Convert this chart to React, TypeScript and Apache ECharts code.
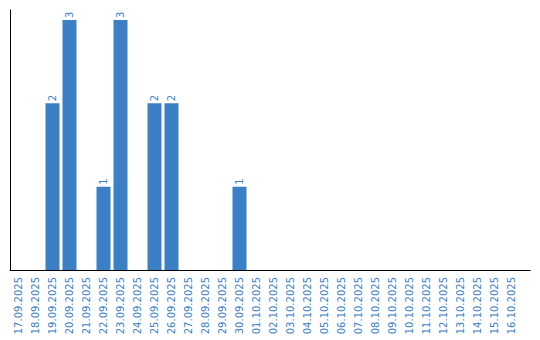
import React, { useEffect, useRef } from "react";
import * as echarts from "echarts";

const categories: string[] = [
  "17.09.2025", "18.09.2025", "19.09.2025", "20.09.2025", "21.09.2025",
  "22.09.2025", "23.09.2025", "24.09.2025", "25.09.2025", "26.09.2025",
  "27.09.2025", "28.09.2025", "29.09.2025", "30.09.2025", "01.10.2025",
  "02.10.2025", "03.10.2025", "04.10.2025", "05.10.2025", "06.10.2025",
  "07.10.2025", "08.10.2025", "09.10.2025", "10.10.2025", "11.10.2025",
  "12.10.2025", "13.10.2025", "14.10.2025", "15.10.2025", "16.10.2025",
];

const values: (number | null)[] = [
  null, null, 2, 3, null, 1, 3, null, 2, 2,
  null, null, null, 1, null, null, null, null, null, null,
  null, null, null, null, null, null, null, null, null, null,
];

const BLUE = "#3b7fc4";

export default function App() {
  const ref = useRef<HTMLDivElement>(null);
  useEffect(() => {
    if (!ref.current) return;
    const chart = echarts.init(ref.current, undefined, { renderer: "svg" });
    chart.setOption({
      animation: false,
      textStyle: { fontFamily: "DejaVu Sans" },
      grid: { left: 10, right: 20, top: 10, bottom: 70, containLabel: false },
      xAxis: {
        type: "category",
        data: categories,
        axisLine: { show: true, lineStyle: { color: "#000", width: 1 } },
        axisTick: { show: false },
        axisLabel: {
          interval: 0,
          rotate: 90,
          color: BLUE,
          fontSize: 10,
          fontFamily: "DejaVu Sans",
          margin: 7,
        },
        splitLine: { show: false },
      },
      yAxis: {
        type: "value",
        min: 0,
        max: 3.12,
        axisLine: { show: true, lineStyle: { color: "#000", width: 1 } },
        axisTick: { show: false },
        axisLabel: { show: false },
        splitLine: { show: false },
      },
      graphic: [
        {
          type: "line",
          shape: { x1: 519, y1: 270.5, x2: 530.5, y2: 270.5 },
          style: { stroke: "#000", lineWidth: 1 },
          silent: true,
        },
      ],
      series: [
        {
          type: "bar",
          data: values,
          barWidth: 14,
          itemStyle: { color: BLUE },
          label: {
            show: true,
            position: "top",
            rotate: 90,
            align: "left",
            verticalAlign: "middle",
            distance: 2,
            color: BLUE,
            fontSize: 10,
            fontFamily: "DejaVu Sans",
          },
        },
      ],
    });
    return () => chart.dispose();
  }, []);
  return <div ref={ref} style={{ width: 540, height: 340, position: "absolute", left: 0, top: 0 }} />;
}
